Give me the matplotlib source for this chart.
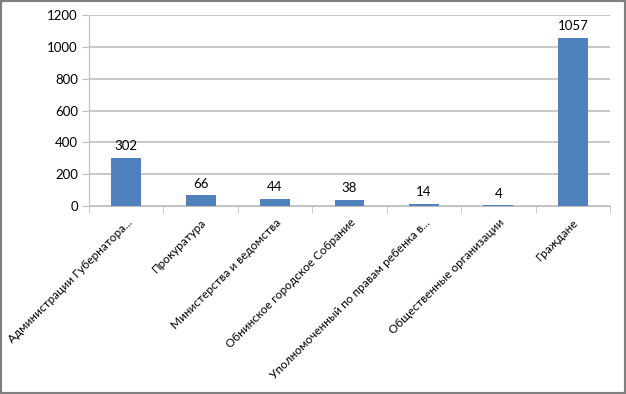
import matplotlib
matplotlib.use("Agg")
import matplotlib.pyplot as plt
from matplotlib.patches import Rectangle
from matplotlib.transforms import ScaledTranslation

categories = [
    "Администрации Губернатора...",
    "Прокуратура",
    "Министерства и ведомства",
    "Обнинское городское Собрание",
    "Уполномоченный по правам ребенка в...",
    "Общественные организации",
    "Граждане",
]
values = [302, 66, 44, 38, 14, 4, 1057]
yticks = [0, 200, 400, 600, 800, 1000, 1200]

plt.rcParams['font.family'] = ['Lato', 'DejaVu Sans']

fig = plt.figure(figsize=(6.26, 3.94), dpi=100)
W, H = 626, 394
ax = fig.add_axes([89 / W, 1 - 206 / H, (610 - 89) / W, (206 - 15) / H])

x = list(range(len(categories)))
bars = ax.bar(x, values, width=0.4, color='#4F81BD', zorder=3)
ax.set_xlim(-0.5, len(categories) - 0.5)
ax.set_ylim(0, 1200)
ax.set_yticks(yticks)
ax.set_yticklabels([str(v) for v in yticks], fontsize=9.5)
ax.yaxis.grid(True, color='#BFBFBF', linewidth=1.2, zorder=0)
ax.set_axisbelow(True)

for s in ['top', 'right']:
    ax.spines[s].set_visible(False)
ax.spines['left'].set_color('#BFBFBF')
ax.spines['bottom'].set_color('#BFBFBF')
ax.tick_params(axis='y', length=5, color='#BFBFBF', pad=3)
ax.tick_params(axis='x', length=0)

# category boundary ticks
ax.set_xticks([i - 0.5 for i in range(len(categories) + 1)], minor=True)
ax.tick_params(axis='x', which='minor', length=5, color='#BFBFBF')
ax.set_xticks(x)
ax.set_xticklabels(categories, rotation=45, ha='right', va='top',
                   rotation_mode='anchor', fontsize=8.5)
offset = ScaledTranslation(0 / 100, -6 / 100, fig.dpi_scale_trans)
for lbl in ax.get_xticklabels():
    lbl.set_transform(lbl.get_transform() + offset)

for xi, v in zip(x, values):
    ax.annotate(str(v), (xi, v), xytext=(0, 4), textcoords='offset points',
                ha='center', va='bottom', fontsize=9.5)

# frame around figure
fig.patches.append(Rectangle((0, 0), 1, 1, transform=fig.transFigure,
                             fill=False, edgecolor='#7F7F7F', linewidth=3))

fig.savefig('out.png', dpi=100)
